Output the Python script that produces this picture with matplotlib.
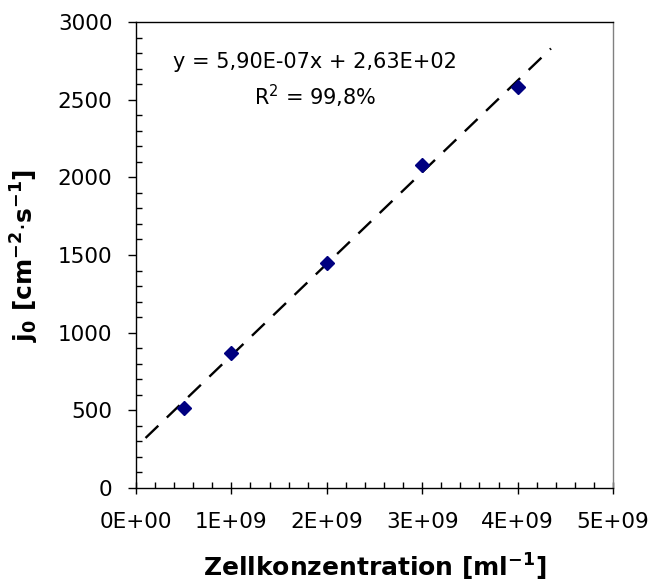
import numpy as np
import matplotlib
matplotlib.use("Agg")
import matplotlib.pyplot as plt
from matplotlib.ticker import MultipleLocator, FuncFormatter

# Measured current density vs. cell concentration
cell_conc = [0.5e9, 1.0e9, 2.0e9, 3.0e9, 4.0e9]
j0_values = [517, 871, 1447, 2080, 2580]

# Linear trendline as reported
slope = 5.90e-07
intercept = 2.63e+02
r_squared = 99.8
trend_x_range = [0.1e9, 4.35e9]

x_ticks = [0, 1e9, 2e9, 3e9, 4e9, 5e9]
y_ticks = [0, 500, 1000, 1500, 2000, 2500, 3000]

plt.rcParams['font.family'] = ['DejaVu Sans']

fig = plt.figure(figsize=(6.51, 5.84), dpi=100)
ax = fig.add_axes([0.2089, 0.1644, 0.7327, 0.7979])

tx = np.array(trend_x_range)
ax.plot(tx, slope * tx + intercept, color='black', lw=1.7,
        linestyle=(0, (7.5, 5)), zorder=2)
ax.plot(cell_conc, j0_values, linestyle='none', marker='D', markersize=7.2,
        color='#000080', markeredgecolor='#000080', zorder=3)

ax.set_xlim(0, 5e9)
ax.set_ylim(0, 3000)
ax.set_xticks(x_ticks)
ax.set_yticks(y_ticks)
ax.xaxis.set_minor_locator(MultipleLocator(0.2e9))
ax.yaxis.set_minor_locator(MultipleLocator(100))


def sci_fmt(v, pos):
    if v == 0:
        return '0E+00'
    e = int(np.floor(np.log10(abs(v))))
    m = v / 10 ** e
    return f"{m:.0f}E+{e:02d}"


ax.xaxis.set_major_formatter(FuncFormatter(sci_fmt))

ax.tick_params(axis='x', which='major', direction='inout', length=9,
               width=1, pad=13, labelsize=15.5)
ax.tick_params(axis='x', which='minor', direction='in', length=4.5, width=1)
ax.tick_params(axis='y', which='major', direction='out', length=6,
               width=1, pad=11, labelsize=15.5)
ax.tick_params(axis='y', which='minor', direction='in', length=4.5, width=1)

for side in ['left', 'bottom', 'top']:
    ax.spines[side].set_color('black')
    ax.spines[side].set_linewidth(1)
ax.spines['right'].set_color('#808080')
ax.spines['right'].set_linewidth(1)

ax.set_xlabel(r'Zellkonzentration [ml$^{\mathbf{-1}}$]', fontsize=18,
              fontweight='bold', labelpad=14)
ax.set_ylabel(r'$\mathbf{j_0}$ [cm$^{\mathbf{-2}}$$\cdot$s$^{\mathbf{-1}}$]',
              fontsize=18, fontweight='bold', labelpad=12)

ax.text(0.375, 0.914,
        f"y = {slope:.2E}x + {intercept:.2E}".replace('.', ','),
        transform=ax.transAxes, ha='center', va='center', fontsize=15)
ax.text(0.375, 0.841, f"R$^2$ = {r_squared:.1f}%".replace('.', ','),
        transform=ax.transAxes, ha='center', va='center', fontsize=15)

fig.savefig('out.png', dpi=100)
